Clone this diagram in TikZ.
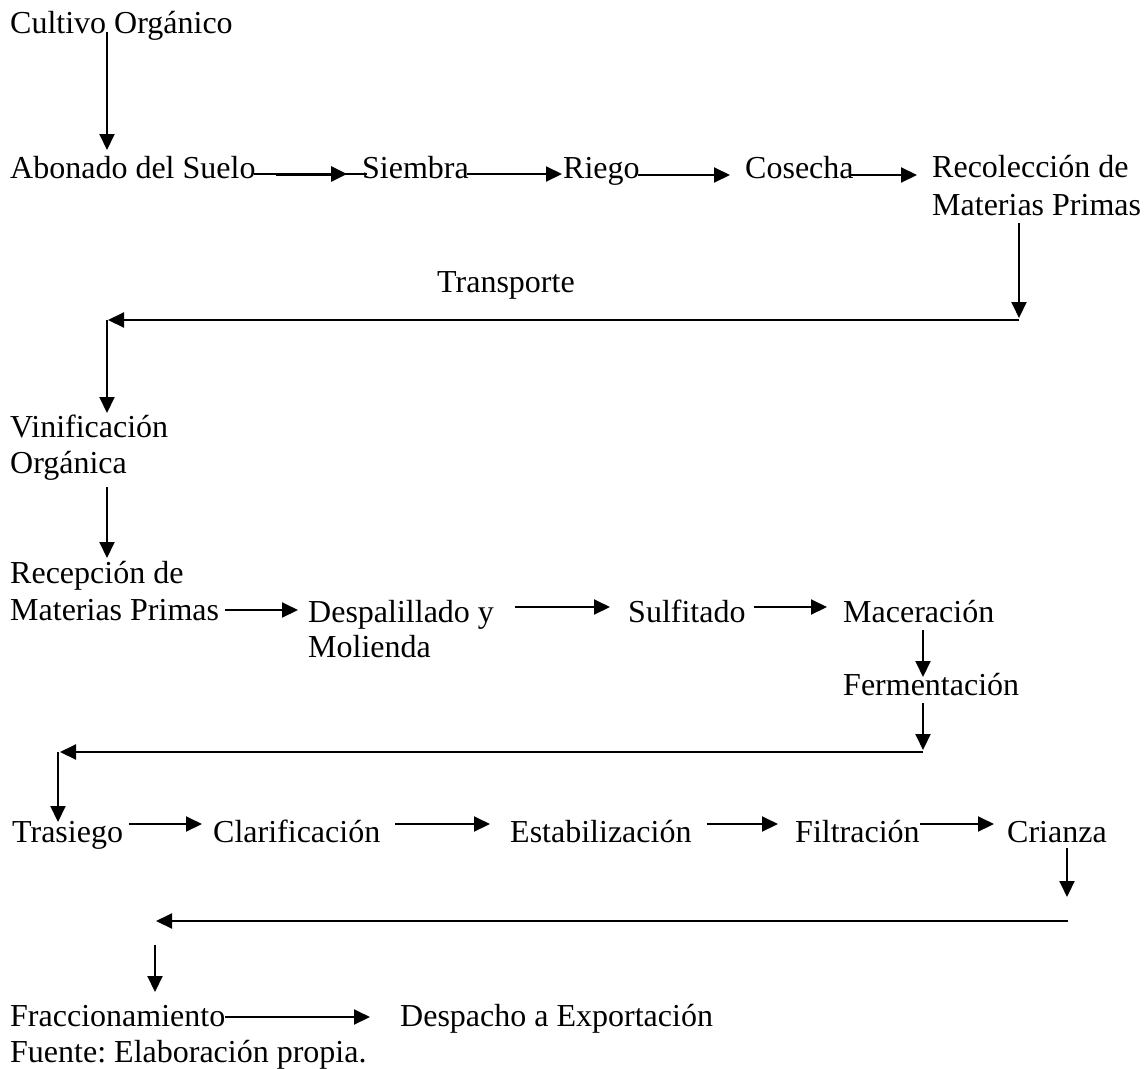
\documentclass[tikz,border=0pt]{standalone}
\usepackage{fontspec}
\setmainfont{Liberation Serif}
\usetikzlibrary{arrows.meta,calc}
\frenchspacing
\begin{document}
\begin{tikzpicture}[x=1pt,y=-1pt,
  lbl/.style={anchor=base west, inner sep=0pt, font=\fontsize{32}{35}\selectfont},
  arr/.style={line width=2pt, -{Triangle[length=16pt,width=15pt]}},
  ln/.style={line width=1.8pt}]
\useasboundingbox[fill=white] (0,0) rectangle (1147,1068);
\newcommand\twoline[3]{\begin{tabular}[t]{@{}l@{}}#1\\[#3]#2\end{tabular}}
% nodes
\node[lbl] (cultivo) at (10,33) {Cultivo Orgánico};
\node[lbl] (abonado) at (10,178) {Abonado del Suelo};
\node[lbl] (siembra) at (362,178) {Siembra};
\node[lbl] (riego) at (563,178) {Riego};
\node[lbl] (cosecha) at (745,178) {Cosecha};
\node[lbl] (recol) at (932,177) {\twoline{Recolección de}{Materias Primas}{3pt}};
\node[lbl] (transporte) at (437,292) {Transporte};
\node[lbl] (vinif) at (10,437) {\twoline{Vinificación}{Orgánica}{1pt}};
\node[lbl] (recep) at (10,583) {\twoline{Recepción de}{Materias Primas}{2pt}};
\node[lbl] (despal) at (308,622) {\twoline{Despalillado y}{Molienda}{0pt}};
\node[lbl] (sulfitado) at (628,622) {Sulfitado};
\node[lbl] (maceracion) at (843,622) {Maceración};
\node[lbl] (fermentacion) at (843,695) {Fermentación};
\node[lbl] (trasiego) at (12,842) {Trasiego};
\node[lbl] (clarif) at (213,842) {Clarificación};
\node[lbl] (estab) at (510,842) {Estabilización};
\node[lbl] (filtr) at (795,842) {Filtración};
\node[lbl] (crianza) at (1007,842) {Crianza};
\node[lbl] (fracc) at (10,1026) {Fraccionamiento};
\node[lbl] (despacho) at (400,1026) {Despacho a Exportación};
\node[lbl] (fuente) at (10,1062) {Fuente: Elaboración propia.};
% elbow coordinates
\coordinate (c1) at (1019,320);
\coordinate (c2) at (107,320);
\coordinate (c3) at (923,752);
\coordinate (c4) at (58,752);
\coordinate (c5) at (1068,921);
\coordinate (c6) at (156,921);
% connectors
\draw[arr] ($(cultivo.base west)+(97,-1)$) -- ($(abonado.base west)+(97,-28)$);
\draw[ln] ($(abonado.base east)+(-2,-4)$) -- ($(siembra.base west)+(5,-4)$);
\draw[arr, line width=3pt] ($(abonado.base east)+(20,-4)$) -- ($(siembra.base west)+(-15,-4)$);
\draw[arr] ($(siembra.base east)+(-2,-4)$) -- ($(riego.base west)+(-1,-4)$);
\draw[arr] ($(riego.base east)+(-2,-3)$) -- ($(cosecha.base west)+(-15,-3)$);
\draw[arr] ($(cosecha.base east)+(-3,-3)$) -- ($(recol.base west)+(-15,-2)$);
\draw[arr] ($(recol.base west)+(87,46)$) -- ($(c1)+(0,-2)$);
\draw[arr] (c1) -- ($(c2)+(1,0)$);
\draw[arr] (c2) -- ($(vinif.base west)+(97,-24)$);
\draw[arr] ($(vinif.base west)+(97,50)$) -- ($(recep.base west)+(97,-25)$);
\draw[arr] ($(recep.base west)+(215,27)$) -- ($(despal.base west)+(-10,-12)$);
\draw[arr] ($(despal.base west)+(207,-15)$) -- ($(sulfitado.base west)+(-18,-15)$);
\draw[arr] ($(sulfitado.base east)+(8,-15)$) -- ($(maceracion.base west)+(-16,-15)$);
\draw[arr] ($(maceracion.base west)+(80,8)$) -- ($(fermentacion.base west)+(80,-18)$);
\draw[arr] ($(fermentacion.base west)+(80,8)$) -- ($(c3)+(0,-2)$);
\draw[arr] (c3) -- ($(c4)+(2,0)$);
\draw[arr] (c4) -- ($(trasiego.base west)+(46,-20)$);
\draw[arr] ($(trasiego.base east)+(6,-18)$) -- ($(clarif.base west)+(-11,-18)$);
\draw[arr] ($(clarif.base east)+(15,-18)$) -- ($(estab.base west)+(-20,-18)$);
\draw[arr] ($(estab.base east)+(15,-18)$) -- ($(filtr.base west)+(-17,-18)$);
\draw[arr] ($(filtr.base east)+(0,-18)$) -- ($(crianza.base west)+(-13,-18)$);
\draw[arr] ($(crianza.base west)+(60,6)$) -- ($(crianza.base west)+(60,55)$);
\draw[arr] (c5) -- (c6);
\draw[arr] ($(fracc.base west)+(145,-81)$) -- ($(fracc.base west)+(145,-34)$);
\draw[arr] ($(fracc.base east)+(0,-9)$) -- ($(despacho.base west)+(-30,-9)$);
\end{tikzpicture}
\end{document}
